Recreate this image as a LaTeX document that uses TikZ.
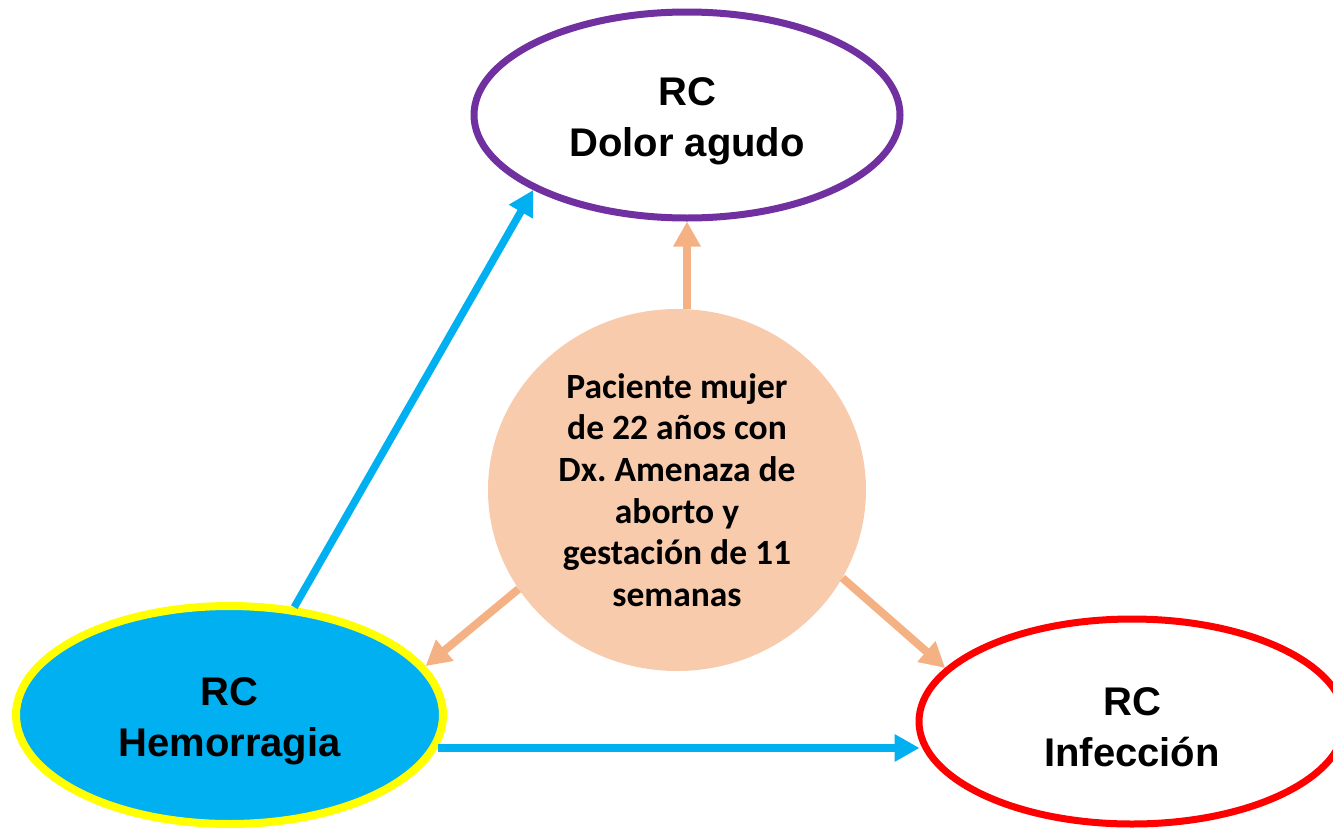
\documentclass[tikz,border=0pt]{standalone}
\usepackage{fontspec}
\setmainfont{Liberation Sans}
\newfontfamily\calib{Carlito}
\usetikzlibrary{shapes.geometric,arrows.meta}
\definecolor{cblue}{HTML}{00B0F0}
\definecolor{cyellow}{HTML}{FFFF00}
\definecolor{cpurple}{HTML}{7030A0}
\definecolor{cred}{HTML}{FF0000}
\definecolor{cpeachfill}{HTML}{F8CBAD}
\definecolor{cpeach}{HTML}{F4B183}
\tikzset{
  rcnode/.style={ellipse, line width=7pt, align=center, inner sep=0pt,
    font=\fontsize{40}{51}\selectfont\bfseries},
  barrow/.style={draw=cblue, line width=7.5pt, -{Triangle[length=25pt,width=26pt]}},
  parrow/.style={draw=cpeach, line width=8pt, -{Triangle[length=25pt,width=26pt]}},
}
\begin{document}
\frenchspacing
\begin{tikzpicture}[x=1pt,y=-1pt]
\useasboundingbox (0,0) rectangle (1333,830);
\node[rcnode, draw=cpurple, fill=white, minimum width=426pt, minimum height=206pt] (dolor) at (687,115) {\rule{0pt}{40pt}RC\\Dolor agudo};
\node[rcnode, draw=cyellow, fill=cblue, line width=8pt, minimum width=427pt, minimum height=218pt] (hem) at (229.5,715) {\rule{0pt}{40pt}RC\\Hemorragia};
\node[rcnode, draw=cred, fill=white, minimum width=426pt, minimum height=205pt] (infec) at (1132,721.5) {\rule{0pt}{40pt}RC\\Infección};
\node[ellipse, fill=cpeachfill, minimum width=378pt, minimum height=362pt, inner sep=0pt, align=center,
  font=\calib\fontsize{35.5}{41.6}\selectfont\bfseries] (pac) at (677,490)
  {Paciente mujer\\de 22 años con\\Dx. Amenaza de\\aborto y\\gestación de 11\\semanas};
\draw[barrow] (hem.59) -- (dolor.206);
\draw[barrow, shorten >=-4pt] (hem.-9) -- (hem.-9 -| infec.west);
\draw[parrow] (dolor.south |- pac.north) -- (dolor.south);
\draw[parrow] (pac.212) -- (hem.14.6);
\draw[parrow] (pac.-28.4) -- (infec.164);
\end{tikzpicture}
\end{document}
